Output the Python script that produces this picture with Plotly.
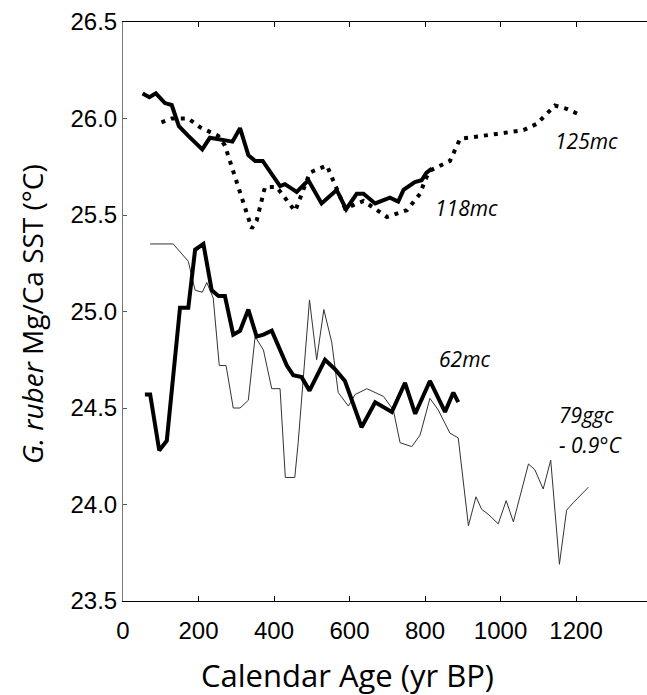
import plotly.graph_objects as go

# 118mc (thick solid, upper)
x_118 = [52, 70, 87, 111, 129, 148, 173, 210, 230, 257, 290, 310, 332, 350, 370, 416, 429, 460, 491, 526,
         566, 591, 619, 637, 668, 707, 729, 743, 773, 791, 804, 818]
y_118 = [26.13, 26.11, 26.13, 26.08, 26.07, 25.96, 25.91, 25.84, 25.90, 25.89, 25.88, 25.95, 25.81, 25.78,
         25.78, 25.65, 25.66, 25.62, 25.68, 25.56, 25.63, 25.53, 25.61, 25.61, 25.56, 25.59, 25.57, 25.63,
         25.67, 25.68, 25.72, 25.74]

# 125mc (dotted)
x_125 = [102, 129, 173, 204, 252, 270, 341, 354, 376, 407, 456, 495, 540, 588, 637, 699, 752, 787, 800, 813,
         866, 893, 990, 1061, 1096, 1144, 1175, 1215]
y_125 = [25.98, 26.00, 26.00, 25.955, 25.91, 25.86, 25.43, 25.47, 25.645, 25.645, 25.52, 25.72, 25.757,
         25.534, 25.573, 25.49, 25.525, 25.61, 25.68, 25.73, 25.78, 25.895, 25.92, 25.94, 25.972, 26.067,
         26.05, 26.015]

# 62mc (thick solid, lower)
x_62 = [58, 72, 96, 116, 151, 173, 191, 213, 235, 253, 270, 292, 310, 332, 354, 372, 394, 434, 451, 473,
        494, 535, 562, 588, 632, 668, 712, 747, 774, 813, 853, 875, 888]
y_62 = [24.57, 24.57, 24.28, 24.33, 25.02, 25.02, 25.32, 25.35, 25.11, 25.08, 25.08, 24.88, 24.90, 25.01,
        24.87, 24.88, 24.90, 24.72, 24.67, 24.66, 24.59, 24.75, 24.70, 24.64, 24.40, 24.53, 24.48, 24.63,
        24.47, 24.64, 24.48, 24.58, 24.53]

# 79ggc - 0.9 C (thin line)
x_79 = [72, 133, 173, 191, 210, 222, 239, 255, 273, 292, 310, 332, 350, 372, 394, 416, 430, 455, 464, 494,
        513, 532, 553, 570, 597, 615, 646, 690, 716, 734, 765, 787, 813, 835, 866, 888, 915, 935, 950, 967,
        994, 1015, 1034, 1074, 1091, 1113, 1133, 1156, 1175, 1193, 1233]
y_79 = [25.35, 25.35, 25.26, 25.11, 25.10, 25.15, 25.07, 24.72, 24.72, 24.50, 24.50, 24.54, 24.87, 24.80,
        24.60, 24.60, 24.14, 24.14, 24.32, 25.06, 24.75, 25.01, 24.84, 24.58, 24.51, 24.57, 24.60, 24.56,
        24.49, 24.32, 24.30, 24.36, 24.55, 24.49, 24.37, 24.345, 23.89, 24.04, 23.975, 23.95, 23.90, 24.02,
        23.91, 24.21, 24.18, 24.08, 24.23, 23.69, 23.97, 24.01, 24.09]

x_ticks = [0, 200, 400, 600, 800, 1000, 1200]
y_ticks = [23.5, 24.0, 24.5, 25.0, 25.5, 26.0, 26.5]

labels = ["125mc", "118mc", "62mc", "79ggc", "- 0.9°C"]
label_x = [1139, 821, 832, 1150, 1150]
label_y = [25.885, 25.536, 24.753, 24.466, 24.31]

fig = go.Figure()
fig.add_trace(go.Scatter(x=x_79, y=y_79, mode="lines", line=dict(color="#333333", width=1)))
fig.add_trace(go.Scatter(x=x_125, y=y_125, mode="lines", line=dict(color="black", width=4, dash="4px,6px")))
fig.add_trace(go.Scatter(x=x_118, y=y_118, mode="lines", line=dict(color="black", width=4)))
fig.add_trace(go.Scatter(x=x_62, y=y_62, mode="lines", line=dict(color="black", width=4)))

for t, ax, ay in zip(labels, label_x, label_y):
    fig.add_annotation(x=ax, y=ay, text="<i>" + t + "</i>", showarrow=False, xanchor="left", align="left",
                       font=dict(family="Open Sans", size=21, color="black"))

# axis titles
fig.add_annotation(xref="paper", yref="paper", x=0.4275, y=-0.128, xanchor="center", yanchor="middle",
                   text="Calendar Age (yr BP)", showarrow=False,
                   font=dict(family="Open Sans", size=31, color="black"))
fig.add_annotation(xref="paper", yref="paper", x=-0.1737, y=0.4957, xanchor="center", yanchor="middle",
                   textangle=-90, text="<i>G. ruber</i> Mg/Ca SST (°C)", showarrow=False,
                   font=dict(family="Open Sans", size=28, color="black"))

tickfont = dict(family="Liberation Sans", size=24, color="black")
fig.update_layout(
    width=647, height=695,
    margin=dict(l=123, r=0, t=22, b=94),
    paper_bgcolor="white", plot_bgcolor="white",
    showlegend=False,
    xaxis=dict(range=[0, 1388], tickvals=x_ticks, ticktext=[str(v) for v in x_ticks],
               ticks="inside", ticklen=5, tickcolor="black", showline=True, linecolor="black", linewidth=1,
               mirror="ticks", showgrid=False, zeroline=False, tickfont=tickfont, ticklabelstandoff=8),
    yaxis=dict(range=[23.5, 26.5], tickvals=y_ticks, ticktext=["%.1f" % v for v in y_ticks],
               ticks="inside", ticklen=4, tickcolor="#555555", showline=True, linecolor="#777777", linewidth=1,
               showgrid=False, zeroline=False, tickfont=tickfont),
    yaxis2=dict(range=[23.5, 26.5], overlaying="y", side="right", anchor="x", tickvals=y_ticks,
                ticks="inside", ticklen=4, tickcolor="#555555", showticklabels=False, showline=False,
                showgrid=False, zeroline=False),
)

fig.write_html("out.html")
